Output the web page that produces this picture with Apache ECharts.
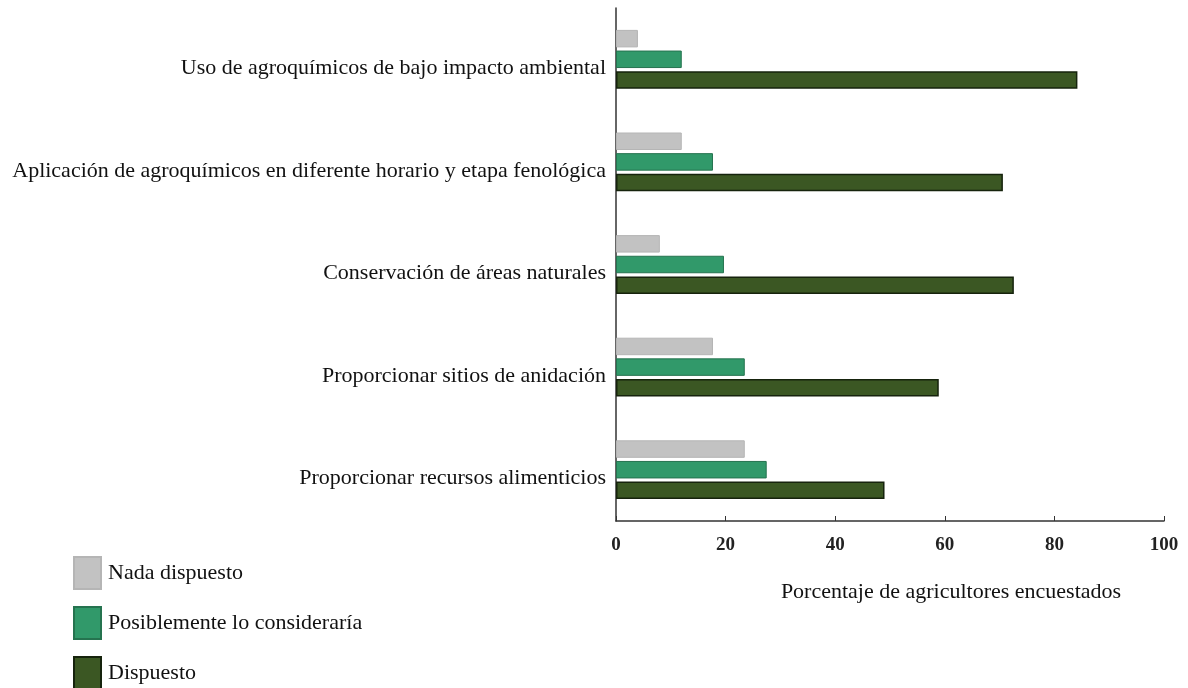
<!DOCTYPE html>
<html><head><meta charset="utf-8">
<script src="https://cdn.jsdelivr.net/npm/echarts@6/dist/echarts.min.js"></script>
<style>html,body{margin:0;padding:0;background:#fff}#c{width:1188px;height:688px}</style>
</head><body><div id="c"></div>
<script>
const categories = [
  'Uso de agroquímicos de bajo impacto ambiental',
  'Aplicación de agroquímicos en diferente horario y etapa fenológica',
  'Conservación de áreas naturales',
  'Proporcionar sitios de anidación',
  'Proporcionar recursos alimenticios'
];
const seriesNames = ['Nada dispuesto', 'Posiblemente lo consideraría', 'Dispuesto'];
const nada = [4, 12, 8, 17.7, 23.5];
const posible = [12, 17.7, 19.7, 23.5, 27.5];
const dispuesto = [84.2, 70.6, 72.6, 58.9, 49];
const xTicks = [0, 20, 40, 60, 80, 100];

const font = '"Liberation Serif", "Times New Roman", serif';
const colors = ['#c2c2c2', '#31996a', '#3b5723'];
const borders = ['#b5b5b5', '#25734f', '#16230d'];
const vals = [nada, posible, dispuesto];

const chart = echarts.init(document.getElementById('c'), null, {renderer: 'canvas'});
chart.setOption({
  animation: false,
  textStyle: {fontFamily: font},
  grid: {left: 616, right: 24, top: 8, bottom: 167, containLabel: false},
  legend: {
    orient: 'vertical', left: 68, top: 551, height: 200,
    itemWidth: 27, itemHeight: 32, itemGap: 16,
    icon: 'rect',
    textStyle: {fontFamily: font, fontSize: 22, color: '#111', padding: [0,0,0,2]},
    data: seriesNames
  },
  xAxis: {
    type: 'value', min: xTicks[0], max: xTicks[xTicks.length-1], interval: 20,
    axisLine: {show: true, lineStyle: {color: '#333', width: 1.5}},
    axisTick: {show: true, inside: true, length: 5, lineStyle: {color: '#333'}},
    splitLine: {show: false},
    axisLabel: {fontFamily: font, fontSize: 19, fontWeight: 'bold', color: '#222', margin: 15},
    name: 'Porcentaje de agricultores encuestados',
    nameLocation: 'middle', nameGap: 60,
    nameTextStyle: {fontFamily: font, fontSize: 22, color: '#111', padding: [0,0,0,122]}
  },
  yAxis: {
    type: 'category', data: categories, inverse: true,
    axisLine: {show: true, lineStyle: {color: '#333', width: 1.5}},
    axisTick: {show: false},
    axisLabel: {fontFamily: font, fontSize: 22, color: '#111', margin: 10, verticalAlign: 'top', lineHeight: 18}
  },
  series: seriesNames.map((n, i) => ({
    name: n, type: 'bar', data: vals[i],
    barWidth: 17.5, barGap: '18%', barCategoryGap: '42%',
    itemStyle: {color: colors[i], borderColor: borders[i], borderWidth: i === 2 ? 1.5 : 1}
  }))
});
</script></body></html>
